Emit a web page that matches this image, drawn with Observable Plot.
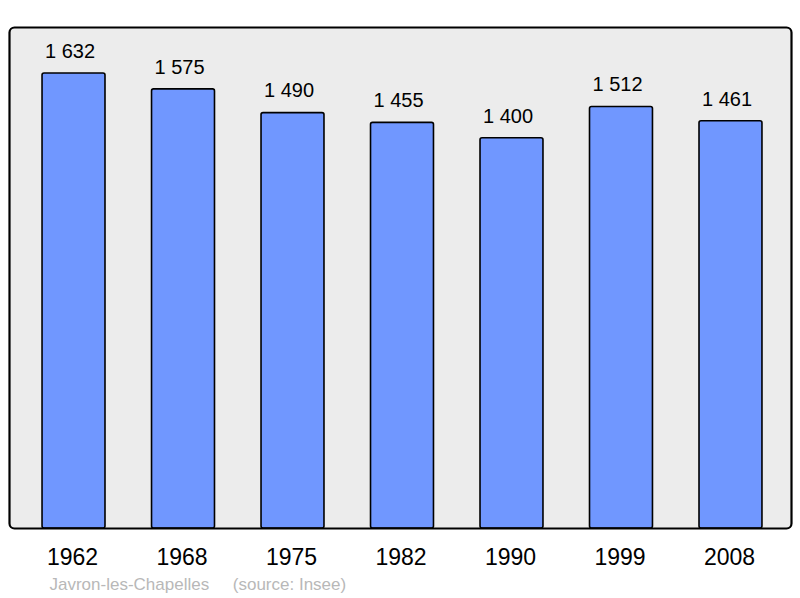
<!DOCTYPE html>
<html>
<head>
<meta charset="utf-8">
<script src="https://cdn.jsdelivr.net/npm/d3@7"></script>
<script src="https://cdn.jsdelivr.net/npm/@observablehq/plot@0.6"></script>
<style>
  html, body { margin: 0; padding: 0; background: #fff; }
</style>
</head>
<body>
<div id="chart"></div>
<script>
const years = ["1962", "1968", "1975", "1982", "1990", "1999", "2008"];
const population = [1632, 1575, 1490, 1455, 1400, 1512, 1461];
const caption = "Javron-les-Chapelles     (source: Insee)";

const data = years.map((y, i) => ({year: y, pop: population[i]}));
const fmt = v => d3.format(",")(v).replace(",", " ");

const chart = Plot.plot({
  width: 800,
  height: 598,
  marginLeft: 9,
  marginRight: 9,
  marginTop: 27,
  marginBottom: 70,
  style: {fontFamily: "'Liberation Sans', Arial, sans-serif", background: "#fff", color: "#000"},
  x: {domain: years, range: [-4.5, 808.5], padding: 0.425, round: false, label: null},
  y: {domain: [0, 1797], axis: null},
  marks: [
    Plot.frame({fill: "#ececec", stroke: "none", rx: 5}),
    Plot.barY(data, {x: "year", y: "pop", fill: "#7097ff", stroke: "#000", strokeWidth: 1.6, rx: 2}),
    Plot.text(data, {x: "year", y: "pop", text: d => fmt(d.pop), dx: -4, dy: -22, fontSize: 20, fill: "#000"}),
    Plot.frame({fill: "none", stroke: "#000", strokeWidth: 2.2, rx: 5}),
    Plot.axisX({tickSize: 0, tickPadding: 20, fontSize: 23, dx: -1.5, label: null}),
    Plot.text([caption], {frameAnchor: "bottom-left", dx: 40, dy: 61, text: d => d, fontSize: 17, fill: "#b8b8b8", textAnchor: "start", style: "white-space: pre"})
  ]
});
document.getElementById("chart").appendChild(chart);
</script>
</body>
</html>
